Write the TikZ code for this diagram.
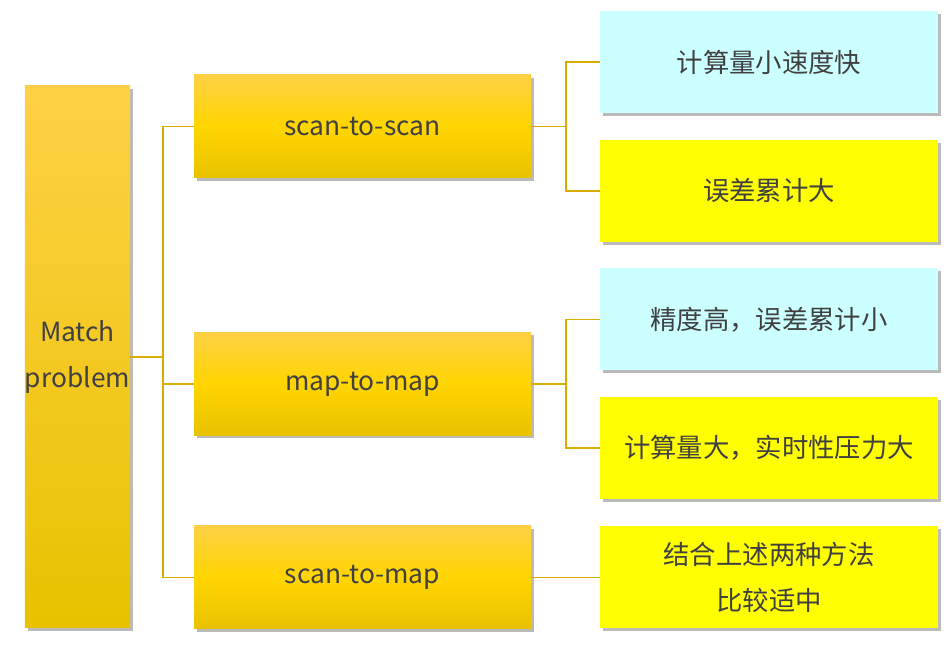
\documentclass[tikz,border=0pt]{standalone}
\usepackage{fontspec}
\setmainfont{Noto Sans CJK SC}
\usepackage{xcolor}
\usepackage{tikz}
\usetikzlibrary{shadows}
\definecolor{ink}{HTML}{404040}
\definecolor{branch}{HTML}{D9AC00}
\definecolor{goldtop}{HTML}{FFD045}
\definecolor{goldmid}{HTML}{FFD500}
\definecolor{goldlow}{HTML}{E8C200}
\definecolor{pale}{HTML}{CCFFFF}
\definecolor{lemon}{HTML}{FFFF00}

\tikzset{
  card/.style={inner sep=0pt, align=center, text=ink,
    font=\fontsize{15}{26}\selectfont,
    drop shadow={shadow xshift=1.5pt, shadow yshift=-1.5pt, opacity=0.45, fill=black!60}},
  goldcard/.style={card, top color=goldtop, bottom color=goldlow, middle color=goldmid},
  rootcard/.style={card, top color=goldtop, bottom color=goldlow},
  notecard/.style={card, fill=#1, minimum width=6.76cm, minimum height=2.04cm},
  link/.style={draw=branch, line width=1.1pt}
}

\begin{document}
\begin{tikzpicture}

\useasboundingbox (0,0) rectangle (18.96,-13);

% =========================
% ROOT
% =========================
\node[rootcard, minimum width=2.06cm, minimum height=10.84cm] (match)
at (1.55,-7.14) {Match\\problem};

% =========================
% METHODS
% =========================
\node[goldcard, minimum width=6.74cm, minimum height=2.06cm] (s2s)
at (7.25,-2.53) {scan-to-scan};
\node[goldcard, minimum width=6.74cm, minimum height=2.06cm] (m2m)
at (7.25,-7.68) {map-to-map};
\node[goldcard, minimum width=6.74cm, minimum height=2.06cm] (s2m)
at (7.25,-11.55) {scan-to-map};

% =========================
% NOTES
% =========================
\node[notecard=pale] (fast) at (15.38,-1.24) {计算量小速度快};
\node[notecard=lemon] (drift) at (15.38,-3.82) {误差累计大};
\node[notecard=pale] (exact) at (15.38,-6.39) {精度高，误差累计小};
\node[notecard=lemon] (heavy) at (15.38,-8.96) {计算量大，实时性压力大};
\node[notecard=lemon] (mixed) at (15.38,-11.55) {结合上述两种方法\\比较适中};

% =========================
% LINKS
% =========================
\draw[link] (match.east) -- ++(0.66,0) |- (s2s.west);
\draw[link] (match.east) -- ++(0.66,0) |- (m2m.west);
\draw[link] (match.east) -- ++(0.66,0) |- (s2m.west);

\draw[link] (s2s.east) -- ++(0.7,0) |- (fast.west);
\draw[link] (s2s.east) -- ++(0.7,0) |- (drift.west);

\draw[link] (m2m.east) -- ++(0.7,0) |- (exact.west);
\draw[link] (m2m.east) -- ++(0.7,0) |- (heavy.west);

\draw[link] (s2m.east) -- (mixed.west);

\end{tikzpicture}
\end{document}
